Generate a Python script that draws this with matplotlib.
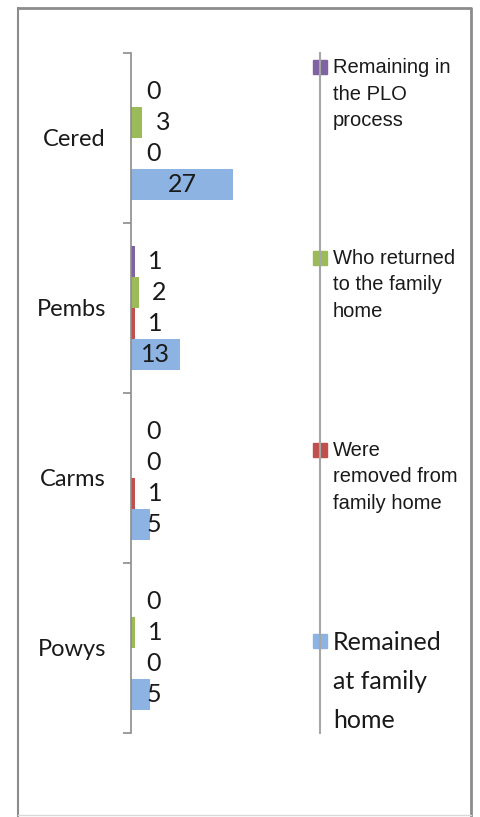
import numpy as np
from matplotlib import pyplot as plt
from matplotlib.lines import Line2D
from matplotlib.patches import Rectangle

# data
categories = ["Cered", "Pembs", "Carms", "Powys"]
series_names = ["Remaining in\nthe PLO\nprocess",
                "Who returned\nto the family\nhome",
                "Were\nremoved from\nfamily home",
                "Remained\nat family\nhome"]
remaining_plo = [0, 1, 0, 0]
returned_home = [3, 2, 0, 1]
removed_home = [0, 1, 1, 0]
remained_home = [27, 13, 5, 5]

colors = ["#8064A2", "#9BBB59", "#C0504D", "#8DB3E2"]
all_series = [remaining_plo, returned_home, removed_home, remained_home]

W, H = 481, 817
fig = plt.figure(figsize=(W / 100, H / 100), dpi=100)

def fx(px):
    return px / W

def fy(py):
    return 1 - py / H

# plot area: axis line at x=131, from y=53 to y=733
ax = fig.add_axes([fx(131), fy(733), fx(300) - fx(131), fy(53) - fy(733)])
px_per_unit = 3.78
ax.set_xlim(0, (300 - 131) / px_per_unit)
ax.set_ylim(3.5, -0.5)

y = np.arange(len(categories))
h = 0.182
for j, vals in enumerate(all_series):
    pos = y + (j - 1.5) * h
    ax.barh(pos, vals, height=h, color=colors[j], edgecolor="none")
    for p, v in zip(pos, vals):
        # labels sit a little past the bar end, or centred on long bars
        lx = v / 2 if v >= 10 else max(v + 5.5, 6)
        if v == 5:
            lx = 6
        ax.text(lx, p, str(v), ha="center", va="center",
                fontsize=18, family=["Lato", "DejaVu Sans"], color="#1a1a1a")

for s in ["top", "right", "bottom"]:
    ax.spines[s].set_visible(False)
ax.spines["left"].set_color("#8c8c8c")
ax.spines["left"].set_linewidth(1.2)
ax.set_xticks([])
ax.set_yticks(y)
ax.set_yticklabels(categories, fontsize=17, family=["Lato", "DejaVu Sans"], color="#1a1a1a")
ax.tick_params(axis="y", which="major", length=0, pad=18)
ax.set_yticks(np.arange(-0.5, 4, 1), minor=True)
ax.tick_params(axis="y", which="minor", length=6, width=1.2, color="#8c8c8c")

# legend column with its vertical line
fig.add_artist(Line2D([fx(320), fx(320)], [fy(53), fy(733)], color="#a6a6a6", lw=1.5))
marker_y = [67, 258, 450, 641]
for j, name in enumerate(series_names):
    fig.add_artist(Rectangle((fx(313), fy(marker_y[j] + 7)), fx(14), 14 / H,
                             color=colors[j], transform=fig.transFigure))
    if j < 3:
        fig.text(fx(333), fy(marker_y[j] - 9), name, ha="left", va="top",
                 fontsize=14.5, family=["Liberation Sans", "DejaVu Sans"],
                 linespacing=1.5, color="#1a1a1a")
    else:
        fig.text(fx(333), fy(marker_y[j] - 10), name, ha="left", va="top",
                 fontsize=18, family=["Lato", "DejaVu Sans"],
                 linespacing=1.85, color="#1a1a1a")

# outer border
fig.add_artist(Line2D([fx(18), fx(471), fx(471)], [fy(8), fy(8), fy(816)], color="#8c8c8c", lw=2))
fig.add_artist(Line2D([fx(18), fx(18)], [fy(8), fy(816)], color="#8c8c8c", lw=1.5))
fig.add_artist(Line2D([fx(18), fx(471)], [fy(815), fy(815)], color="#d9d9d9", lw=1))

plt.savefig("out.png", dpi=100)
